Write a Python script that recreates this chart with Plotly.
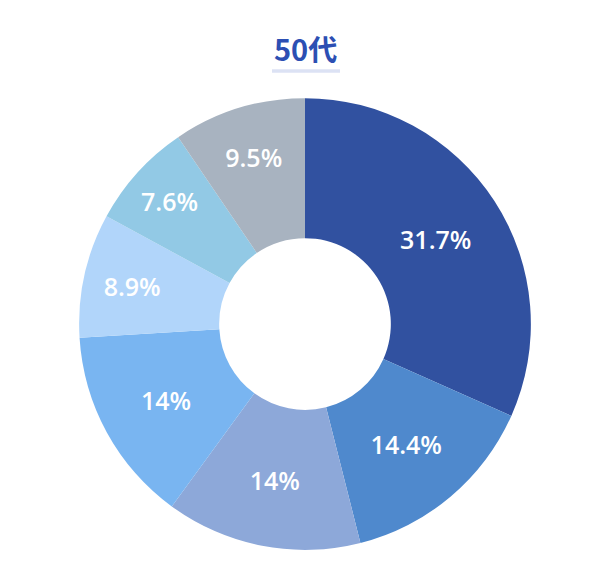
import plotly.graph_objects as go

labels = ["A", "B", "C", "D", "E", "F", "G"]
values = [31.7, 14.4, 14, 14, 8.9, 7.6, 9.5]
text_labels = ["31.7%", "14.4%", "14%", "14%", "8.9%", "7.6%", "9.5%"]
colors = ["#3151A0", "#4F89CD", "#8DA8D9", "#79B5F1", "#B1D5FA", "#92C9E5", "#A8B3C0"]

fig = go.Figure(go.Pie(
    labels=labels,
    values=values,
    text=text_labels,
    textinfo="text",
    textposition="inside",
    insidetextorientation="horizontal",
    hole=0.38,
    sort=False,
    direction="clockwise",
    rotation=0,
    marker=dict(colors=colors, line=dict(width=0)),
    textfont=dict(color="white", size=25, family="Open Sans, sans-serif", weight=600),
    domain=dict(x=[0.126, 0.874], y=[0.042, 0.829]),
    showlegend=False,
))

fig.add_annotation(
    text="50代", x=0.5, y=1 - 48 / 574, xref="paper", yref="paper", showarrow=False,
    yanchor="middle",
    font=dict(size=29, color="#2C4FB3", family="Noto Sans CJK JP, sans-serif", weight=600),
)
fig.add_shape(type="line", xref="paper", yref="paper",
              x0=272 / 610, x1=340 / 610, y0=1 - 71 / 574, y1=1 - 71 / 574,
              line=dict(color="#DCE2F4", width=3.5))

fig.update_layout(
    width=610, height=574,
    margin=dict(l=0, r=0, t=0, b=0),
    paper_bgcolor="white", plot_bgcolor="white",
)
fig.write_html("out.html")
